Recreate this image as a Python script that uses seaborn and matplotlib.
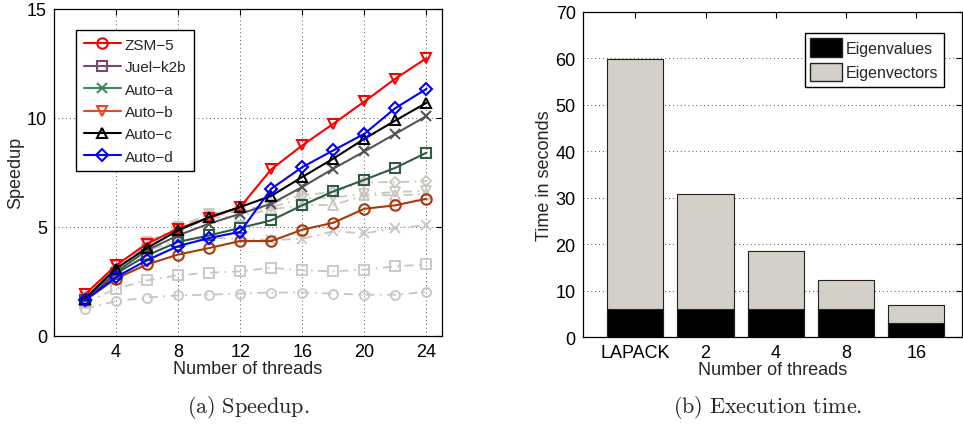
import numpy as np
import pandas as pd
import seaborn as sns
import matplotlib
matplotlib.use("Agg")
import matplotlib.pyplot as plt
from matplotlib.lines import Line2D
from matplotlib.patches import Patch


# data

threads = [2, 4, 6, 8, 10, 12, 14, 16, 18, 20, 22, 24]

zsm5 = [1.63, 2.63, 3.28, 3.73, 4.03, 4.35, 4.35, 4.87, 5.19, 5.83, 5.99, 6.29]
juel_k2b = [1.63, 2.86, 3.70, 4.31, 4.61, 4.95, 5.30, 5.99, 6.63, 7.16, 7.71, 8.40]
auto_a = [1.63, 2.93, 3.93, 4.61, 5.15, 5.60, 6.06, 6.83, 7.67, 8.46, 9.27, 10.08]
auto_b = [1.90, 3.24, 4.23, 4.92, 5.41, 5.91, 7.64, 8.74, 9.73, 10.75, 11.80, 12.74]
auto_c = [1.71, 3.09, 4.03, 4.84, 5.45, 5.91, 6.42, 7.29, 8.13, 9.04, 9.88, 10.69]
auto_d = [1.63, 2.70, 3.47, 4.12, 4.49, 4.77, 6.75, 7.74, 8.51, 9.27, 10.45, 11.33]

# faded (grey, dash-dot) reference runs
faded_o = [1.25, 1.59, 1.76, 1.86, 1.89, 1.94, 1.99, 1.99, 1.94, 1.89, 1.89, 2.02]
faded_s = [1.50, 2.17, 2.55, 2.78, 2.90, 2.96, 3.12, 3.01, 2.96, 3.04, 3.19, 3.28]
faded_x = [1.60, 2.90, 3.90, 4.40, 4.50, 4.45, 4.40, 4.45, 4.80, 4.70, 4.95, 5.07]
faded_v = [1.80, 3.20, 4.30, 5.00, 5.60, 5.70, 5.90, 6.30, 6.35, 6.50, 6.60, 6.65]
faded_t = [1.70, 3.00, 4.10, 4.80, 5.40, 5.50, 5.80, 6.00, 6.00, 6.45, 6.45, 6.50]
faded_d = [1.70, 3.00, 4.20, 4.90, 5.60, 5.70, 6.10, 6.45, 6.60, 7.05, 7.05, 7.10]

bar_labels = ["LAPACK", "2", "4", "8", "16"]
eigenvalues = [6.1, 6.1, 6.1, 6.1, 3.0]
total_time = [59.8, 30.9, 18.5, 12.3, 6.95]


sns.set_style("white")
plt.rcParams["font.family"] = ["Liberation Sans", "DejaVu Sans"]
plt.rcParams["mathtext.fontset"] = "cm"

fig = plt.figure(figsize=(9.63, 4.27), dpi=100)
ax1 = fig.add_axes([0.056, 0.211, 0.403, 0.766])
ax2 = fig.add_axes([0.605, 0.208, 0.394, 0.762])

# 1. Speedup plot

faded = "#c9c5bf"
for vals, mk in [(faded_o, "o"), (faded_s, "s"), (faded_x, "x"),
                 (faded_v, "v"), (faded_t, "^"), (faded_d, "D")]:
    sns.lineplot(x=threads, y=vals, ax=ax1, color=faded, linestyle=(0, (5, 3, 1, 3)),
                 linewidth=1.3, marker=mk, markersize=6.5 if mk != "D" else 5.5,
                 markerfacecolor="none", markeredgecolor=faded, markeredgewidth=1.3,
                 zorder=2)

# (name, values, line colour, legend colour, marker)
series = [
    ("ZSM\u22125", zsm5, "#a83a0a", "#ff0000", "o"),
    ("Juel\u2212k2b", juel_k2b, "#2e5c46", "#6e4c72", "s"),
    ("Auto\u2212a", auto_a, "#555555", "#3a8a60", "x"),
    ("Auto\u2212b", auto_b, "#ff0000", "#e4482a", "v"),
    ("Auto\u2212c", auto_c, "#000000", "#000000", "^"),
    ("Auto\u2212d", auto_d, "#0000ff", "#0000ff", "D"),
]

handles = []
for name, vals, col, legcol, mk in series:
    ms = 7.5 if mk != "D" else 6
    sns.lineplot(x=threads, y=vals, ax=ax1, color=col, linewidth=1.5, marker=mk,
                 markersize=ms, markerfacecolor="none", markeredgecolor=col,
                 markeredgewidth=1.5, zorder=3)
    handles.append(Line2D([], [], color=legcol, linewidth=1.5, marker=mk, markersize=ms,
                          markerfacecolor="none", markeredgecolor=legcol,
                          markeredgewidth=1.5, label=name))

ax1.set_xlim(0, 25)
ax1.set_ylim(0, 15)
ax1.set_xticks([4, 8, 12, 16, 20, 24])
ax1.set_yticks([0, 5, 10, 15])
ax1.grid(True, linestyle=(0, (1, 3)), color="#555555", linewidth=0.7)
ax1.set_xlabel("Number of threads", fontsize=13, labelpad=0)
ax1.set_ylabel("Speedup", fontsize=13, labelpad=2)
ax1.legend(handles=handles, loc="upper left", bbox_to_anchor=(0.058, 0.935), fontsize=11,
           frameon=True, fancybox=False, edgecolor="black", framealpha=1,
           handlelength=2.4, labelspacing=0.55, borderpad=0.5, handletextpad=0.25,
           borderaxespad=0)
ax1.get_legend().get_frame().set_linewidth(1.0)

# 2. Execution time bars

sns.barplot(x=bar_labels, y=total_time, ax=ax2, color="#d4d0c8", saturation=1,
            edgecolor="#222222", linewidth=0.8, width=0.8, zorder=2)
sns.barplot(x=bar_labels, y=eigenvalues, ax=ax2, color="#000000", saturation=1,
            edgecolor="#222222", linewidth=0.8, width=0.8, zorder=3)
ax2.set_xlim(-0.75, 4.65)
ax2.set_ylim(0, 70)
ax2.set_yticks(range(0, 71, 10))
ax2.yaxis.grid(True, linestyle=(0, (1, 3)), color="#555555", linewidth=0.7)
ax2.set_axisbelow(True)
ax2.set_xlabel("Number of threads", fontsize=13, labelpad=0)
ax2.set_ylabel("Time in seconds", fontsize=13, labelpad=2)
ax2.legend(handles=[Patch(facecolor="#000000", edgecolor="#222222", label="Eigenvalues"),
                    Patch(facecolor="#d4d0c8", edgecolor="#222222", label="Eigenvectors")],
           loc="upper right", bbox_to_anchor=(0.96, 0.945), fontsize=11.5, frameon=True,
           fancybox=False, edgecolor="black", framealpha=1, handlelength=2.0,
           handleheight=1.4, labelspacing=0.35, borderpad=0.35, handletextpad=0.2,
           borderaxespad=0.2)
ax2.get_legend().get_frame().set_linewidth(1.0)

for ax in (ax1, ax2):
    ax.tick_params(direction="in", top=True, right=True, length=4, width=0.8,
                   labelsize=13, colors="black", pad=5)
    for sp in ax.spines.values():
        sp.set_color("black")
        sp.set_linewidth(0.9)
        sp.set_visible(True)

fig.text(0.258, 0.045, r"$\mathrm{(a)\ Speedup.}$", fontsize=16, ha="center", va="center")
fig.text(0.797, 0.045, r"$\mathrm{(b)\ Execution\ time.}$", fontsize=16, ha="center",
         va="center")

fig.savefig("out.png", dpi=100)
